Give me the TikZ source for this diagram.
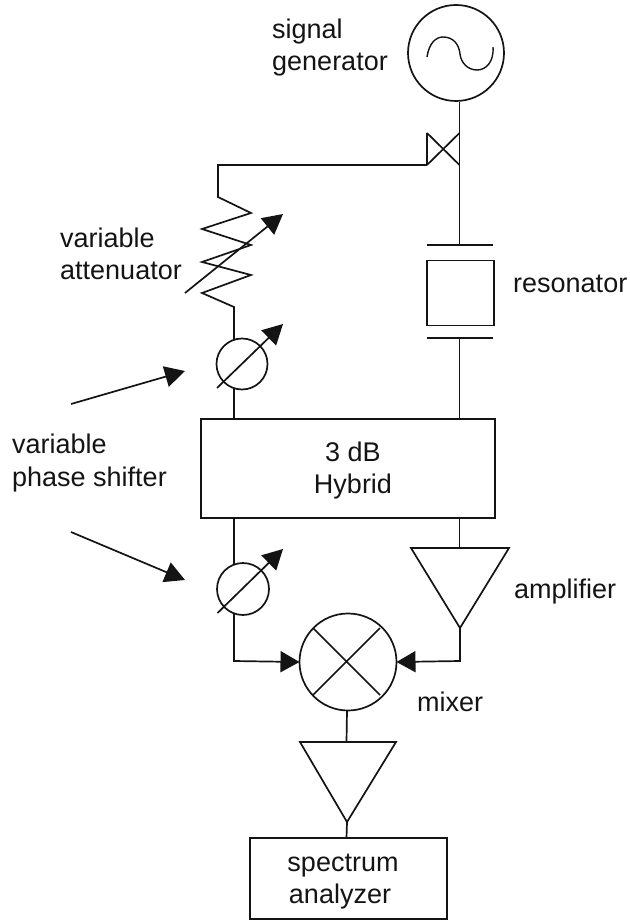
\documentclass[tikz,border=0pt]{standalone}
\usepackage{fontspec}
\setmainfont{Liberation Sans}
\usetikzlibrary{arrows.meta}
\tikzset{
  wire/.style={line width=1.7pt,line join=miter,color=black!92},
  lbl/.style={inner sep=0pt,anchor=base west,font=\fontsize{27}{32}\selectfont,color=black!92},
  clbl/.style={inner sep=0pt,anchor=base,font=\fontsize{27}{32}\selectfont,color=black!92},
  circ/.style={draw,circle,wire,inner sep=0pt,outer sep=0pt,minimum size=#1},
  boxn/.style={draw,rectangle,wire,inner sep=0pt,outer sep=0pt,minimum width=#1},
  bighead/.style={-{Triangle[length=20pt,width=21pt]}},
  sidehead/.style={-{Triangle[length=19pt,width=21pt]}},
}
\begin{document}
\begin{tikzpicture}[x=1pt,y=-1pt]
\useasboundingbox (0,0) rectangle (629,920);
% main components
\node[circ=96pt] (gen) at (456,53) {};
\node[boxn=67pt,minimum height=65pt] (res) at (460.5,293) {};
\node[boxn=294pt,minimum height=99pt] (hyb) at (348,468.5) {};
\node[circ=51pt] (ps1) at (242,364) {};
\node[circ=52pt] (ps2) at (243,589) {};
\node[circ=97pt] (mix) at (348,662) {};
\node[boxn=197pt,minimum height=81pt] (sa) at (348.5,878.5) {};
% labels
\node[lbl] (t1) at (272,39) {signal};
\node[lbl] (t2) at (272,71) {generator};
\node[lbl] (t3) at (60,247) {variable};
\node[lbl] (t4) at (60,279) {attenuator};
\node[lbl] (t5) at (513,292) {resonator};
\node[lbl] (t6) at (12,453) {variable};
\node[lbl] (t7) at (12,486) {phase shifter};
\node[clbl] (t8) at (353,461) {3 dB};
\node[clbl] (t9) at (353,493) {Hybrid};
\node[lbl] (t10) at (514,598) {amplifier};
\node[lbl] (t11) at (417,711) {mixer};
\node[clbl] (t12) at (343,871) {spectrum};
\node[clbl] (t13) at (340,903) {analyzer};
% sine inside generator
\draw[wire,line width=1.4pt] (427,57) .. controls (429,43) and (436,37) .. (443,37)
  .. controls (453,37) and (459,44) .. (460,54)
  .. controls (461,63) and (468,70) .. (477,70)
  .. controls (486,70) and (494,62) .. (493,47);
% coupler
\coordinate (c1) at (427,133);
\coordinate (c2) at (427,165);
\coordinate (c3) at (459.5,133);
\coordinate (c4) at (459.5,165);
\draw[wire] (c1) -- (c4) (c2) -- (c3) (c1) -- (c2);
% right branch
\coordinate (g0) at (459.5,102);
\coordinate (p1) at (459.5,245);
\coordinate (p1l) at (427,245);
\coordinate (p1r) at (493,245);
\coordinate (p2) at (459.5,338);
\coordinate (p2l) at (427,338);
\coordinate (p2r) at (493,338);
\coordinate (h1) at (459.5,419);
\draw[wire] (g0) -- (p1);
\draw[wire] (p1l) -- (p1r);
\draw[wire] (p2l) -- (p2r);
\draw[wire] (p2) -- (h1);
% attenuator
\coordinate (a0) at (218,165);
\coordinate (a1) at (218,197);
\coordinate (a9) at (234,307);
\coordinate (s1t) at (234,340);
\draw[wire] (c2) -- (a0) -- (a1) -- (251,213) -- (202,229) -- (251,245) -- (202,262) -- (251,275) -- (202,293) -- (a9) -- (s1t);
\coordinate (ata) at (185,293);
\coordinate (atb) at (283,214);
\draw[wire,bighead] (ata) -- (atb);
% phase shifters
\coordinate (s1b) at (234,388);
\coordinate (h2) at (234,419);
\draw[wire] (s1b) -- (h2);
\coordinate (s1a) at (217,388);
\coordinate (s1c) at (283,324);
\draw[wire,bighead] (s1a) -- (s1c);
\coordinate (h3) at (234,518);
\coordinate (s2t) at (234,565);
\draw[wire] (h3) -- (s2t);
\coordinate (s2a) at (217.5,613);
\coordinate (s2c) at (283,549);
\draw[wire,bighead] (s2a) -- (s2c);
% pointer arrows
\coordinate (l1a) at (71,404);
\coordinate (l1b) at (185,371);
\draw[wire,bighead] (l1a) -- (l1b);
\coordinate (l2a) at (71,532);
\coordinate (l2b) at (185,580);
\draw[wire,bighead] (l2a) -- (l2b);
% mixer
\draw[wire] (313,628) -- (380,695) (313,695) -- (380,628);
\coordinate (s2b) at (234,614);
\coordinate (mc) at (234,661);
\draw[wire,sidehead] (s2b) -- (mc) -- (mix.west);
% amplifier
\coordinate (am1) at (411,548);
\coordinate (am2) at (509,548);
\coordinate (am3) at (460,628);
\coordinate (h4) at (459.5,518);
\coordinate (amt) at (459.5,548);
\coordinate (mr) at (460,661);
\draw[wire] (am1) -- (am2) -- (am3) -- cycle;
\draw[wire] (h4) -- (amt);
\draw[wire,sidehead] (am3) -- (mr) -- (mix.east);
% output amplifier
\coordinate (bm1) at (300,742);
\coordinate (bm2) at (396,742);
\coordinate (bm3) at (347,822);
\coordinate (bmt) at (346.5,742);
\draw[wire] (bm1) -- (bm2) -- (bm3) -- cycle;
\draw[wire] (mix.south) ++(-1,0) -- (bmt);
\coordinate (sat) at (346.5,838);
\draw[wire] (bm3) -- (sat);
\end{tikzpicture}
\end{document}
